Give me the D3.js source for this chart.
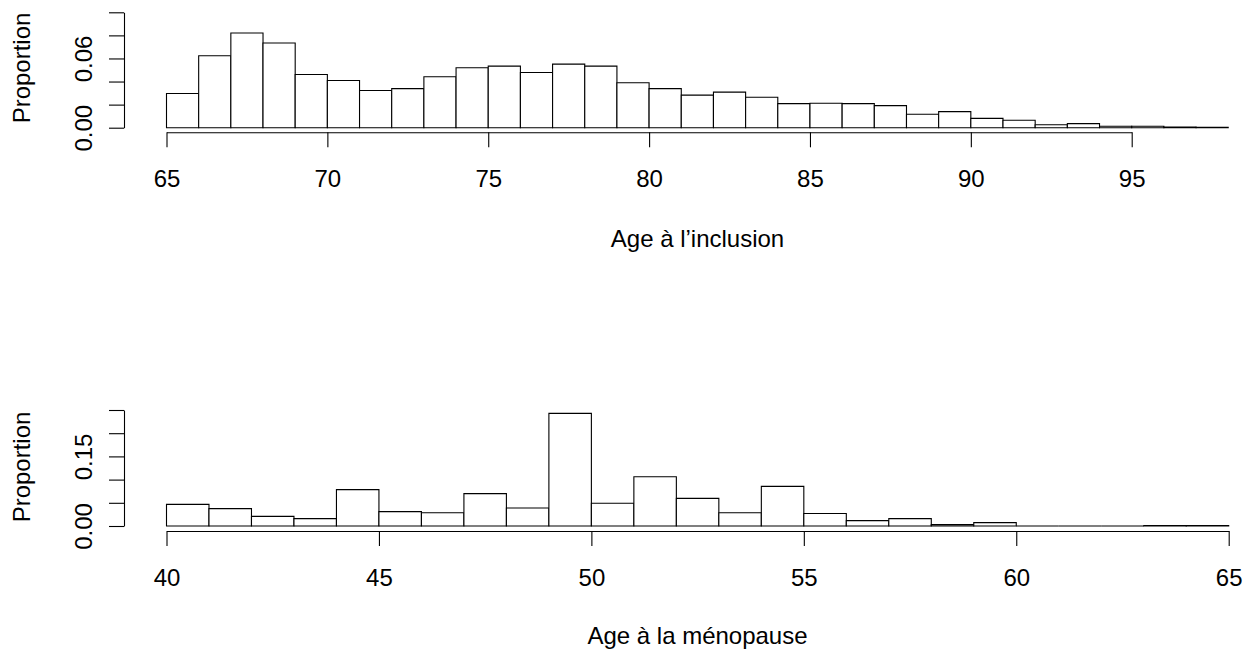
<!DOCTYPE html>
<html>
<head>
<meta charset="utf-8">
<script src="https://cdn.jsdelivr.net/npm/d3@7"></script>
<style>
html,body{margin:0;padding:0;background:#fff;}
svg{display:block;}
text{font-family:"Liberation Sans",Arial,Helvetica,sans-serif;font-size:24px;fill:#000;}
</style>
</head>
<body>
<svg id="chart" width="1250" height="650"></svg>
<script>
// ---- Data ----
const topStart = 65;            // first break, bin width 1
const topValues = [0.0296,0.0623,0.0821,0.0734,0.0461,0.0409,0.0322,0.0339,0.0441,0.0519,
                   0.0534,0.0478,0.0551,0.0534,0.0389,0.0339,0.0282,0.0308,0.0264,0.0209,
                   0.0212,0.0209,0.0191,0.0116,0.0139,0.0081,0.0064,0.0026,0.0035,0.0012,
                   0.0012,0.0006,0.0003];
const topXTicks = [65,70,75,80,85,90,95];
const topYTicks = [0,0.02,0.04,0.06,0.08,0.10];
const topYLabels = ["0.00","","","0.06","",""];
const topXTitle = "Age à l\u2019inclusion";

const botStart = 40;
const botValues = [0.0467,0.0374,0.0208,0.0158,0.0783,0.0309,0.0287,0.0697,0.0388,0.2428,
                   0.0489,0.1063,0.0596,0.0287,0.0855,0.0270,0.0115,0.0158,0.0029,0.0072,
                   0,0,0,0.0012,0.0012];
const botXTicks = [40,45,50,55,60,65];
const botYTicks = [0,0.05,0.10,0.15,0.20,0.25];
const botYLabels = ["0.00","","","0.15","",""];
const botXTitle = "Age à la ménopause";
const yTitle = "Proportion";

const svg = d3.select("#chart");

function panel(cfg){
  const x = d3.scaleLinear().domain(cfg.xDomain).range(cfg.xRange);
  const y = d3.scaleLinear().domain(cfg.yDomain).range(cfg.yRange);
  const g = svg.append("g");
  const data = cfg.values.map((v,i)=>({x0:cfg.start+i, x1:cfg.start+i+1, v:v}));
  g.selectAll("path.bar").data(data).enter().append("path")
    .attr("class","bar")
    .attr("d", d=>`M${x(d.x0)},${y(0)}V${y(d.v)}H${x(d.x1)}V${y(0)}Z`)
    .attr("fill","#fff").attr("stroke","#000").attr("stroke-width",1.1);

  // x axis
  const xa = g.append("g").attr("transform",`translate(0,${cfg.xAxisY})`)
    .call(d3.axisBottom(x).tickValues(cfg.xTicks).tickSize(15).tickSizeOuter(0).tickFormat(d3.format("d")));
  xa.select(".domain").attr("stroke","#000").attr("stroke-width",1.1);
  xa.selectAll(".tick line").attr("stroke","#000").attr("stroke-width",1.1);
  xa.selectAll(".tick text").attr("dy",null)
    .attr("y", cfg.xLabelBase - cfg.xAxisY)
    .style("font-size","24px").style("font-family","Liberation Sans, Arial, sans-serif");

  // y axis
  const ya = g.append("g").attr("transform",`translate(${cfg.yAxisX},0)`)
    .call(d3.axisLeft(y).tickValues(cfg.yTicks).tickSize(15).tickSizeOuter(0)
      .tickFormat((d,i)=>cfg.yLabels[i]));
  ya.select(".domain").attr("stroke","#000").attr("stroke-width",1.1);
  ya.selectAll(".tick line").attr("stroke","#000").attr("stroke-width",1.1);
  ya.selectAll(".tick text")
    .attr("x",0).attr("dy",null)
    .attr("y", -32.5)
    .attr("transform","rotate(-90)")
    .attr("text-anchor","middle")
    .style("font-size","24px").style("font-family","Liberation Sans, Arial, sans-serif");

  // titles
  g.append("text").attr("x",cfg.titleX).attr("y",cfg.xTitleBase)
    .attr("text-anchor","middle").text(cfg.xTitle);
  g.append("text").attr("transform",`translate(29.5,${cfg.yTitleY}) rotate(-90)`)
    .attr("text-anchor","middle").text(yTitle);
}

panel({start:topStart, values:topValues, xDomain:[65,95], xRange:[166.5,1131.7],
  yDomain:[0,0.10], yRange:[127.7,12.3], xTicks:topXTicks, yTicks:topYTicks, yLabels:topYLabels,
  xAxisY:132.3, xLabelBase:186.7, yAxisX:124, xTitle:topXTitle, xTitleBase:246.7, titleX:697.5, yTitleY:68});

panel({start:botStart, values:botValues, xDomain:[40,65], xRange:[166.5,1228.7],
  yDomain:[0,0.25], yRange:[526,410], xTicks:botXTicks, yTicks:botYTicks, yLabels:botYLabels,
  xAxisY:531, xLabelBase:585.5, yAxisX:124, xTitle:botXTitle, xTitleBase:644, titleX:697.5, yTitleY:467});
</script>
</body>
</html>
